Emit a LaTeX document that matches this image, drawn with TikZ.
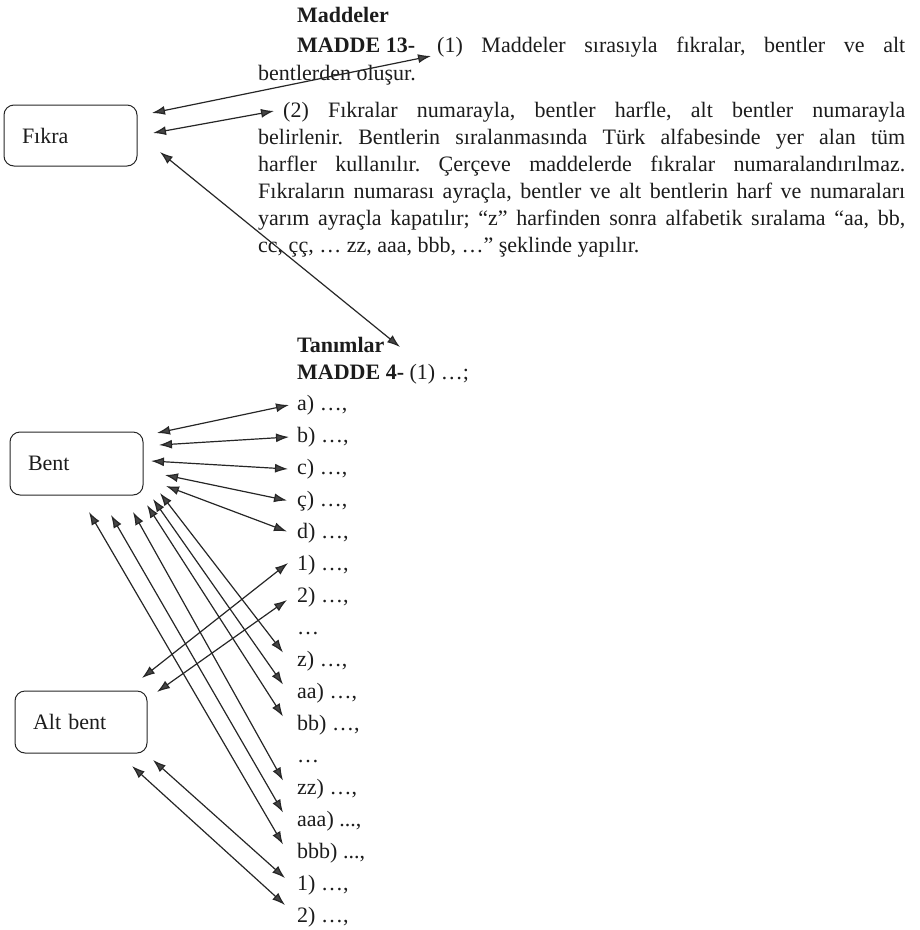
\documentclass[tikz,border=0pt]{standalone}
\usepackage{fontspec}
\setmainfont{Liberation Serif}
\usetikzlibrary{arrows.meta}
\definecolor{ink}{HTML}{1C1C1C}
\definecolor{linecol}{HTML}{262626}
\definecolor{headfill}{HTML}{454545}
\frenchspacing
\begin{document}
\begin{tikzpicture}[x=1pt,y=-1pt,
  txt/.style={anchor=base west, inner sep=0pt, text=ink, font=\fontsize{22}{27}\selectfont},
  bx/.style={draw=linecol, line width=1pt, rounded corners=10pt, inner xsep=18pt,
    align=left, text=ink, font=\fontsize{22}{27}\selectfont},
  dbl/.style={{Latex[length=13pt,width=9pt,fill=headfill]}-{Latex[length=13pt,width=9pt,fill=headfill]},
    line width=1.2pt, draw=linecol}]
\useasboundingbox (0,0) rectangle (920,930);

% ---- boxes ----
\node[bx, text width=97pt, minimum height=61pt] (fikra) at (70.5,135.5) {Fıkra};
\node[bx, text width=97pt, minimum height=63pt] (bent) at (76.5,463.5) {Bent};
\node[bx, text width=96pt, minimum height=62pt] (altbent) at (81,722) {Alt bent};

% ---- upper paragraph ----
\node[txt] (mad) at (297,22) {\textbf{Maddeler}};
\node[txt] (m13) at (297,52) {\textbf{MADDE 13-}};
\node[txt] (p1) at (437,52) {\makebox[468pt][s]{(1) Maddeler sırasıyla fıkralar, bentler ve alt}};
\node[txt] (l2) at (258,80) {bentlerden oluşur.};
\node[txt] (p2) at (283,117) {\makebox[622pt][s]{(2) Fıkralar numarayla, bentler harfle, alt bentler numarayla}};
\node[txt] (l4) at (258,144) {\makebox[647pt][s]{belirlenir. Bentlerin sıralanmasında Türk alfabesinde yer alan tüm}};
\node[txt] (l5) at (258,171) {\makebox[647pt][s]{harfler kullanılır. Çerçeve maddelerde fıkralar numaralandırılmaz.}};
\node[txt] (l6) at (258,198) {\makebox[647pt][s]{Fıkraların numarası ayraçla, bentler ve alt bentlerin harf ve numaraları}};
\node[txt] (l7) at (258,225) {\makebox[647pt][s]{yarım ayraçla kapatılır; “z” harfinden sonra alfabetik sıralama “aa, bb,}};
\node[txt] (l8) at (258,252) {cc, çç, … zz, aaa, bbb, …” şeklinde yapılır.};

% ---- lower list ----
\node[txt] (tan) at (297,352) {\textbf{Tanımlar}};
\node[txt] (m4) at (297,379) {\textbf{MADDE 4-} (1) …;};
\node[txt] (i0) at (297,410.5) {a) …,};
\node[txt] (i1) at (297,442.5) {b) …,};
\node[txt] (i2) at (297,474.5) {c) …,};
\node[txt] (i3) at (297,506.5) {ç) …,};
\node[txt] (i4) at (297,538.5) {d) …,};
\node[txt] (i5) at (297,570.5) {1) …,};
\node[txt] (i6) at (297,602.5) {2) …,};
\node[txt] (i7) at (297,634.5) {…};
\node[txt] (i8) at (297,666.5) {z) …,};
\node[txt] (i9) at (297,698.5) {aa) …,};
\node[txt] (i10) at (297,730.5) {bb) …,};
\node[txt] (i11) at (297,762.5) {…};
\node[txt] (i12) at (297,794.5) {zz) …,};
\node[txt] (i13) at (297,826.5) {aaa) ...,};
\node[txt] (i14) at (297,858.5) {bbb) ...,};
\node[txt] (i15) at (297,890.5) {1) …,};
\node[txt] (i16) at (297,922.5) {2) …,};

% ---- free ends near the boxes ----
\coordinate (f1) at (152,113);
\coordinate (f2) at (153,133);
\coordinate (f3) at (160,152);
\coordinate (t4) at (400,347);
\coordinate (ba) at (157,433);
\coordinate (bb) at (159,445);
\coordinate (bc) at (151,461);
\coordinate (bcc) at (165,475);
\coordinate (bd) at (166,486);
\coordinate (bz) at (160,493);
\coordinate (baa) at (153,499);
\coordinate (bbb) at (147,505);
\coordinate (bzz) at (133,512);
\coordinate (baaa) at (111,515);
\coordinate (bbbb) at (89,512);
\coordinate (u1) at (142,678);
\coordinate (u2) at (157,692);
\coordinate (w1) at (153,760);
\coordinate (w2) at (132,766);

% ---- connectors ----
\draw[dbl] (f1) -- ([shift={(-6,4)}]p1.base west);
\draw[dbl] (f2) -- ([shift={(-9,-6)}]p2.base west);
\draw[dbl] (f3) -- (t4);

\draw[dbl] (ba) -- ([shift={(-8,-5.5)}]i0.base west);
\draw[dbl] (bb) -- ([shift={(-8,-5.5)}]i1.base west);
\draw[dbl] (bc) -- ([shift={(-9,-5.5)}]i2.base west);
\draw[dbl] (bcc) -- ([shift={(-10,-6)}]i3.base west);
\draw[dbl] (bd) -- ([shift={(-10,-7)}]i4.base west);

\draw[dbl] (bz) -- ([shift={(-14,-14)}]i8.base west);
\draw[dbl] (baa) -- ([shift={(-14,-14)}]i9.base west);
\draw[dbl] (bbb) -- ([shift={(-14,-14)}]i10.base west);
\draw[dbl] (bzz) -- ([shift={(-14,-14)}]i12.base west);
\draw[dbl] (baaa) -- ([shift={(-14,-14)}]i13.base west);
\draw[dbl] (bbbb) -- ([shift={(-14,-14)}]i14.base west);

\draw[dbl] (u1) -- ([shift={(-9,-7.5)}]i5.base west);
\draw[dbl] (u2) -- ([shift={(-10,-2.5)}]i6.base west);
\draw[dbl] (w1) -- ([shift={(-12,-12.5)}]i15.base west);
\draw[dbl] (w2) -- ([shift={(-12,-17.5)}]i16.base west);
\end{tikzpicture}
\end{document}
